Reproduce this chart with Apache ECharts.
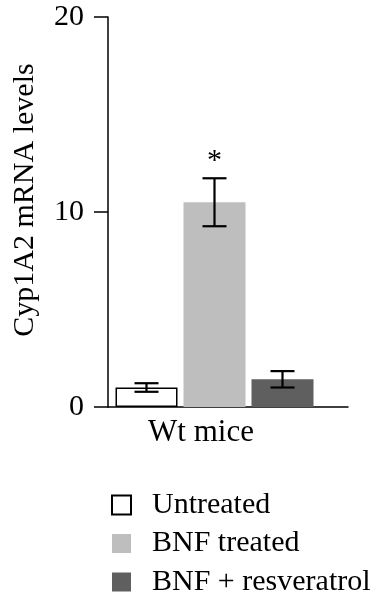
<!DOCTYPE html>
<html><head><meta charset="utf-8">
<script src="https://cdn.jsdelivr.net/npm/echarts@6/dist/echarts.min.js"></script>
<style>html,body{margin:0;padding:0;background:#fff}#c{width:386px;height:607px}</style>
</head><body><div id="c"></div>
<script>
const categories = ['Wt mice'];
const seriesNames = ['Untreated', 'BNF treated', 'BNF + resveratrol'];
const means = [1.0, 10.5, 1.42];
const errors = [0.22, 1.23, 0.42];
const significance = ['', '*', ''];
const yTicks = [0, 10, 20];

const FONT = 'Liberation Serif';
const colors = ['#ffffff', '#bebebe', '#5f5f5f'];
const chart = echarts.init(document.getElementById('c'));
const BW = 62, GAP = 6;

const barSeries = seriesNames.map((n, i) => ({
  name: n, type: 'bar', barWidth: BW, barGap: (GAP / BW * 100) + '%',
  data: [means[i]],
  itemStyle: { color: colors[i], borderColor: i === 0 ? '#000' : colors[i], borderWidth: i === 0 ? 1.5 : 0 },
  emphasis: { disabled: true }, z: 2
}));

const errSeries = {
  type: 'custom', silent: true, z: 5,
  data: means.map((m, i) => [i, m, errors[i]]),
  renderItem: function (params, api) {
    const i = api.value(0);
    const m = api.value(1), e = api.value(2);
    const base = api.coord([categories[0], m]);
    const total = 3 * BW + 2 * GAP;
    const cx = base[0] - total / 2 + BW / 2 + i * (BW + GAP);
    const yT = api.coord([categories[0], m + e])[1];
    const yB = api.coord([categories[0], m - e])[1];
    const hw = 12;
    const st = { stroke: '#000', lineWidth: 2.2 };
    const children = [
      { type: 'line', shape: { x1: cx, y1: yT, x2: cx, y2: yB }, style: st },
      { type: 'line', shape: { x1: cx - hw, y1: yT, x2: cx + hw, y2: yT }, style: st },
      { type: 'line', shape: { x1: cx - hw, y1: yB, x2: cx + hw, y2: yB }, style: st }
    ];
    const sig = significance[i];
    if (sig) {
      children.push({ type: 'text', style: { text: sig, x: cx, y: yT - 2, align: 'center', verticalAlign: 'bottom', font: '30px ' + FONT, fill: '#000' } });
    }
    return { type: 'group', children: children };
  }
};

chart.setOption({
  animation: false,
  grid: [
    { left: 108, right: 65, top: 17, bottom: 200 },
    { left: 108, right: 38, top: 17, bottom: 200 }
  ],
  legend: {
    orient: 'vertical', left: 106, top: 485, height: 122, itemWidth: 19, itemHeight: 19, itemGap: 8.5,
    data: seriesNames, selectedMode: false,
    textStyle: { fontFamily: FONT, fontSize: 30, color: '#000', lineHeight: 30, padding: [0, 0, 0, 16] },
    icon: 'rect'
  },
  xAxis: [{
    type: 'category', data: categories, gridIndex: 0,
    axisLine: { show: false },
    axisTick: { show: false },
    axisLabel: { color: '#000', fontFamily: FONT, fontSize: 31, margin: 10, padding: [0, 27, 0, 0] }
  }, {
    type: 'category', data: categories, gridIndex: 1,
    axisLine: { show: true, lineStyle: { color: '#000', width: 1.5 } },
    axisTick: { show: false }, axisLabel: { show: false }
  }],
  yAxis: [{
    type: 'value', gridIndex: 0, min: yTicks[0], max: yTicks[yTicks.length - 1], interval: yTicks[1] - yTicks[0],
    name: 'Cyp1A2 mRNA levels', nameLocation: 'middle', nameGap: 68,
    nameTextStyle: { fontFamily: FONT, fontSize: 30, color: '#000', padding: [0, 0, 0, 24] },
    axisLine: { show: true, lineStyle: { color: '#000', width: 1.5 } },
    axisTick: { show: true, length: 14, lineStyle: { color: '#000', width: 1.5 } },
    splitLine: { show: false },
    axisLabel: { color: '#000', fontFamily: FONT, fontSize: 30, margin: 24 }
  }, {
    type: 'value', gridIndex: 1, min: yTicks[0], max: yTicks[yTicks.length - 1], show: false
  }],
  series: [...barSeries, errSeries]
});
</script></body></html>
